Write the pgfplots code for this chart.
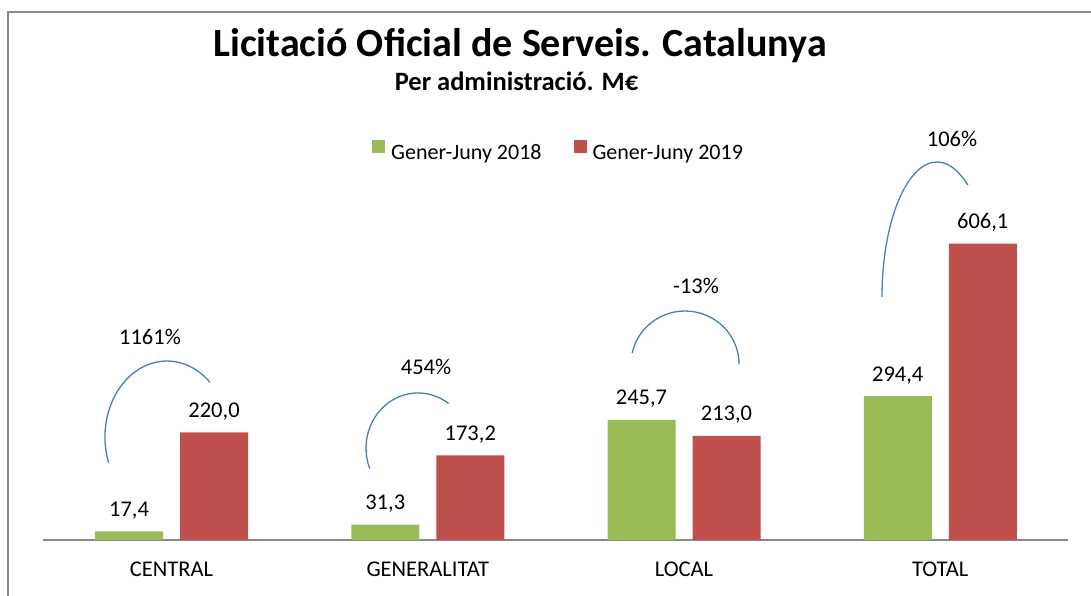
\documentclass[border=0pt]{standalone}
\usepackage{pgfplots}
\pgfplotsset{compat=1.18}
\usepackage{pgfplotstable}
\usepackage{fontspec}
\setmainfont{Carlito}
\definecolor{cgreen}{HTML}{9BBB59}
\definecolor{cred}{HTML}{C0504D}
\definecolor{cblue}{HTML}{4A7EBB}
\definecolor{cgray}{HTML}{898989}

\pgfplotstableread{
x y lab
0 17.4 {17,4}
1 31.3 {31,3}
2 245.7 {245,7}
3 294.4 {294,4}
}\dataA
\pgfplotstableread{
x y lab
0 220.0 {220,0}
1 173.2 {173,2}
2 213.0 {213,0}
3 606.1 {606,1}
}\dataB

\begin{document}
\begin{tikzpicture}[x=1pt,y=1pt]
\useasboundingbox (0,0) rectangle (1091,596);
\draw[cgray, line width=1.2pt] (8,0) -- (8,584) -- (1091,584);
\begin{axis}[
  at={(43.4pt,56pt)}, anchor=south west,
  scale only axis, width=1025pt, height=342.3pt,
  xmin=-0.5, xmax=3.5, ymin=0, ymax=700,
  axis x line*=bottom, axis y line=none,
  x axis line style={cgray, line width=1.2pt, -},
  xtick={0,1,2,3},
  xticklabels={CENTRAL,GENERALITAT,LOCAL,TOTAL},
  major tick length=0pt,
  xticklabel style={anchor=base, yshift=-37pt, font=\fontsize{22.5}{26}\selectfont},
  ytick=\empty,
  ybar, bar width=68pt,
  clip=false,
  nodes near coords,
  point meta=explicit symbolic,
  every node near coord/.append style={anchor=base, yshift=15pt, font=\fontsize{22.5}{26}\selectfont, inner sep=0pt},
  legend columns=2,
  legend style={at={(0.3206,1.138)}, anchor=west, draw=none, fill=none,
    font=\fontsize{22}{26}\selectfont, inner sep=0pt, nodes={inner sep=0pt},
    /tikz/every odd column/.style={column sep=6pt},
    /tikz/every even column/.style={column sep=32pt}},
  legend image code/.code={\fill[#1] (0pt,0pt) rectangle (13pt,13pt);},
]
\addplot[fill=cgreen, draw=none, bar shift=-42.5pt] table[x=x,y=y,meta=lab]{\dataA};
\addplot[fill=cred, draw=none, bar shift=42.5pt] table[x=x,y=y,meta=lab]{\dataB};
\legend{Gener-Juny 2018, Gener-Juny 2019}
\end{axis}
\node[anchor=base, font=\bfseries\fontsize{40}{48}\selectfont] at (520,539.3) {Licitació Oficial de Serveis. Catalunya};
\node[anchor=base, font=\bfseries\fontsize{26.5}{31}\selectfont] at (516.5,505.3) {Per administració. M€};
\begin{scope}[cblue, line width=1.3pt]
\draw (108.7pt,133pt) arc[start angle=200, end angle=46, x radius=62pt, y radius=76pt];
\draw (369.8pt,127.4pt) arc[start angle=202, end angle=54, x radius=52pt, y radius=55pt];
\draw (632.2pt,243pt) arc[start angle=168, end angle=0, x radius=54pt, y radius=53pt];
\draw (882pt,299pt) arc[start angle=180, end angle=56, x radius=55pt, y radius=135pt];
\end{scope}
\begin{scope}[font=\fontsize{22.5}{26}\selectfont]
\node[anchor=base] at (150,251) {1161\%};
\node[anchor=base] at (426,221) {454\%};
\node[anchor=base] at (696,302) {-13\%};
\node[anchor=base] at (952,449) {106\%};
\end{scope}
\end{tikzpicture}
\end{document}
